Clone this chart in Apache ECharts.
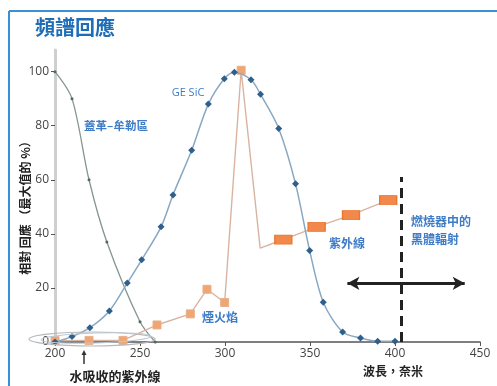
<!DOCTYPE html>
<html>
<head>
<meta charset="utf-8">
<script src="https://cdn.jsdelivr.net/npm/echarts@6/dist/echarts.min.js"></script>
<style>
html,body{margin:0;padding:0;background:#fff;}
#c{width:497px;height:386px;}
</style>
</head>
<body>
<div id="c"></div>
<script>
// ---- data ----
const xTicks = [200, 250, 300, 350, 400, 450];
const yTicks = [0, 20, 40, 60, 80, 100];

const gmX = [200, 210, 220, 230.5, 250, 259];
const gmY = [100, 90, 60, 37, 7.5, 0];

const sicX = [200, 210, 220.5, 232, 242.5, 251, 262.4, 269.4, 280.4, 290.2, 299.6, 305.5, 315.3, 320.9, 331.6, 341.5, 349.8, 357.8, 369.2, 379.7, 389.8, 400];
const sicY = [0, 2, 5.3, 11.5, 21.8, 30.4, 42.6, 54.4, 70.9, 88, 97.4, 99.8, 97, 91.6, 79, 58.5, 33.8, 14.7, 3.7, 1.5, 0.3, 0.3];

const flameX = [200, 220, 240, 260, 279.6, 289.4, 299.8, 309.5, 320.7, 334.3, 353.9, 374.1, 396];
const flameY = [0.5, 0.6, 0.6, 6.3, 10.4, 19.5, 14.6, 100.5, 34.7, 37.9, 42.6, 46.9, 52.5];

const blackbodyCut = 403.5;
const blackbodyTop = 61;
const arrowFrom = 372, arrowTo = 441, arrowY = 21.7;

// ---- chart ----
const chart = echarts.init(document.getElementById('c'), null, {renderer: 'canvas'});
const cjk = '"Noto Sans CJK TC", "Noto Sans CJK SC", sans-serif';
const num = '"Open Sans", "Noto Sans", sans-serif';
const blueTxt = '#3f7cc8';

const flameData = flameX.map((x, i) => {
  const d = {value: [x, flameY[i]]};
  if (i === 8) { d.symbol = 'none'; d.symbolSize = 0; }
  else if (i >= 9) {
    d.symbol = 'rect'; d.symbolSize = [17, 9];
    d.itemStyle = {color: '#f2884a', borderColor: '#ea7630', borderWidth: 1};
  } else {
    d.symbol = 'rect'; d.symbolSize = 8;
    d.itemStyle = {color: '#f0a672', borderColor: '#e9b08a', borderWidth: 1};
  }
  return d;
});

chart.setOption({
  animation: false,
  grid: {left: 55, right: 17, top: 50, bottom: 44, containLabel: false},
  xAxis: {
    type: 'value', min: 200, max: 450, interval: 50,
    axisLine: {show: true, lineStyle: {color: '#555', width: 1.5}},
    axisTick: {show: true, length: 4, lineStyle: {color: '#555'}},
    axisLabel: {color: '#444', fontSize: 12, fontFamily: num, margin: 6,
      customValues: xTicks},
    splitLine: {show: false}
  },
  yAxis: {
    type: 'value', min: 0, max: 108,
    axisLine: {show: true, lineStyle: {color: '#cfcfcf', width: 3}},
    axisTick: {show: true, length: 4, lineStyle: {color: '#555'}, customValues: yTicks},
    axisLabel: {color: '#444', fontSize: 12, fontFamily: num, margin: 6, customValues: yTicks},
    splitLine: {show: false}
  },
  series: [
    {
      type: 'line', name: 'GM', smooth: 0.3,
      data: gmX.map((x, i) => [x, gmY[i]]),
      symbol: 'circle', symbolSize: 3, showSymbol: true,
      lineStyle: {color: '#85978d', width: 1.3},
      itemStyle: {color: '#4f6a5c'}, z: 2
    },
    {
      type: 'line', name: 'flame', smooth: false,
      data: flameData,
      lineStyle: {color: '#d9b3a2', width: 1.4},
      itemStyle: {color: '#f0a672'}, z: 3,
      markLine: {
        silent: true, animation: false,
        label: {show: false},
        data: [
          [{coord: [blackbodyCut, 0], symbol: 'none'}, {coord: [blackbodyCut, blackbodyTop], symbol: 'none',
            lineStyle: {color: '#222', width: 3, type: [10, 6]}}],
          [{coord: [arrowFrom, arrowY], symbol: 'arrow', symbolSize: [10, 12]},
           {coord: [arrowTo, arrowY], symbol: 'arrow', symbolSize: [10, 12],
            lineStyle: {color: '#222', width: 3, type: 'solid'}}]
        ],
        lineStyle: {color: '#222', width: 3}
      }
    },
    {
      type: 'line', name: 'GE SiC', smooth: 0.3,
      data: sicX.map((x, i) => [x, sicY[i]]),
      symbol: 'diamond', symbolSize: 7,
      lineStyle: {color: '#88a8c2', width: 1.5},
      itemStyle: {color: '#2f5f8c'}, z: 4
    }
  ],
  graphic: [
    {type: 'line', shape: {x1: 9, y1: 11, x2: 497, y2: 11}, style: {stroke: '#3b8fd4', lineWidth: 2}, silent: true},
    {type: 'line', shape: {x1: 9, y1: 11, x2: 9, y2: 386}, style: {stroke: '#3b8fd4', lineWidth: 2}, silent: true},
    {type: 'text', left: 35, top: 17, style: {text: '頻譜回應', fill: '#1f6db6', font: 'bold 20px ' + cjk}},
    {type: 'text', x: 25, y: 205, rotation: Math.PI / 2,
      style: {text: '相對 回應 （最大值的 %）', fill: '#222', font: 'bold 12px ' + cjk, align: 'center', verticalAlign: 'middle'}},
    {type: 'text', x: 188, y: 93, style: {text: 'GE SiC', fill: blueTxt, font: '11px ' + num, align: 'center', verticalAlign: 'middle'}},
    {type: 'text', x: 116, y: 126, style: {text: '蓋革–牟勒區', fill: blueTxt, font: 'bold 11.5px ' + cjk, align: 'center', verticalAlign: 'middle'}},
    {type: 'text', x: 220, y: 317, style: {text: '煙火焰', fill: blueTxt, font: 'bold 12px ' + cjk, align: 'center', verticalAlign: 'middle'}},
    {type: 'text', x: 347, y: 243, style: {text: '紫外線', fill: blueTxt, font: 'bold 12px ' + cjk, align: 'center', verticalAlign: 'middle'}},
    {type: 'text', x: 411, y: 221, style: {text: '燃燒器中的', fill: blueTxt, font: 'bold 12px ' + cjk, align: 'left', verticalAlign: 'middle'}},
    {type: 'text', x: 411, y: 239, style: {text: '黑體輻射', fill: blueTxt, font: 'bold 12px ' + cjk, align: 'left', verticalAlign: 'middle'}},
    {type: 'text', x: 393, y: 371, style: {text: '波長，奈米', fill: '#222', font: 'bold 12px ' + cjk, align: 'center', verticalAlign: 'middle'}},
    {type: 'text', x: 115, y: 376, style: {text: '水吸收的紫外線', fill: '#222', font: 'bold 13px ' + cjk, align: 'center', verticalAlign: 'middle'}},
    {type: 'line', shape: {x1: 84, y1: 352, x2: 84, y2: 364}, style: {stroke: '#333', lineWidth: 1.5}, silent: true},
    {type: 'polygon', shape: {points: [[81.5, 355], [84, 350], [86.5, 355]]}, style: {fill: '#333'}, silent: true},
    {type: 'ellipse', shape: {cx: 92, cy: 339, rx: 63, ry: 7}, style: {fill: 'none', stroke: '#b8b8b8', lineWidth: 1.2}, silent: true, z: 10},
    {type: 'ellipse', shape: {cx: 96, cy: 338, rx: 55, ry: 5}, rotation: 0.03, originX: 96, originY: 338, style: {fill: 'none', stroke: '#b9c9d8', lineWidth: 1}, silent: true, z: 10}
  ]
});
</script>
</body>
</html>
